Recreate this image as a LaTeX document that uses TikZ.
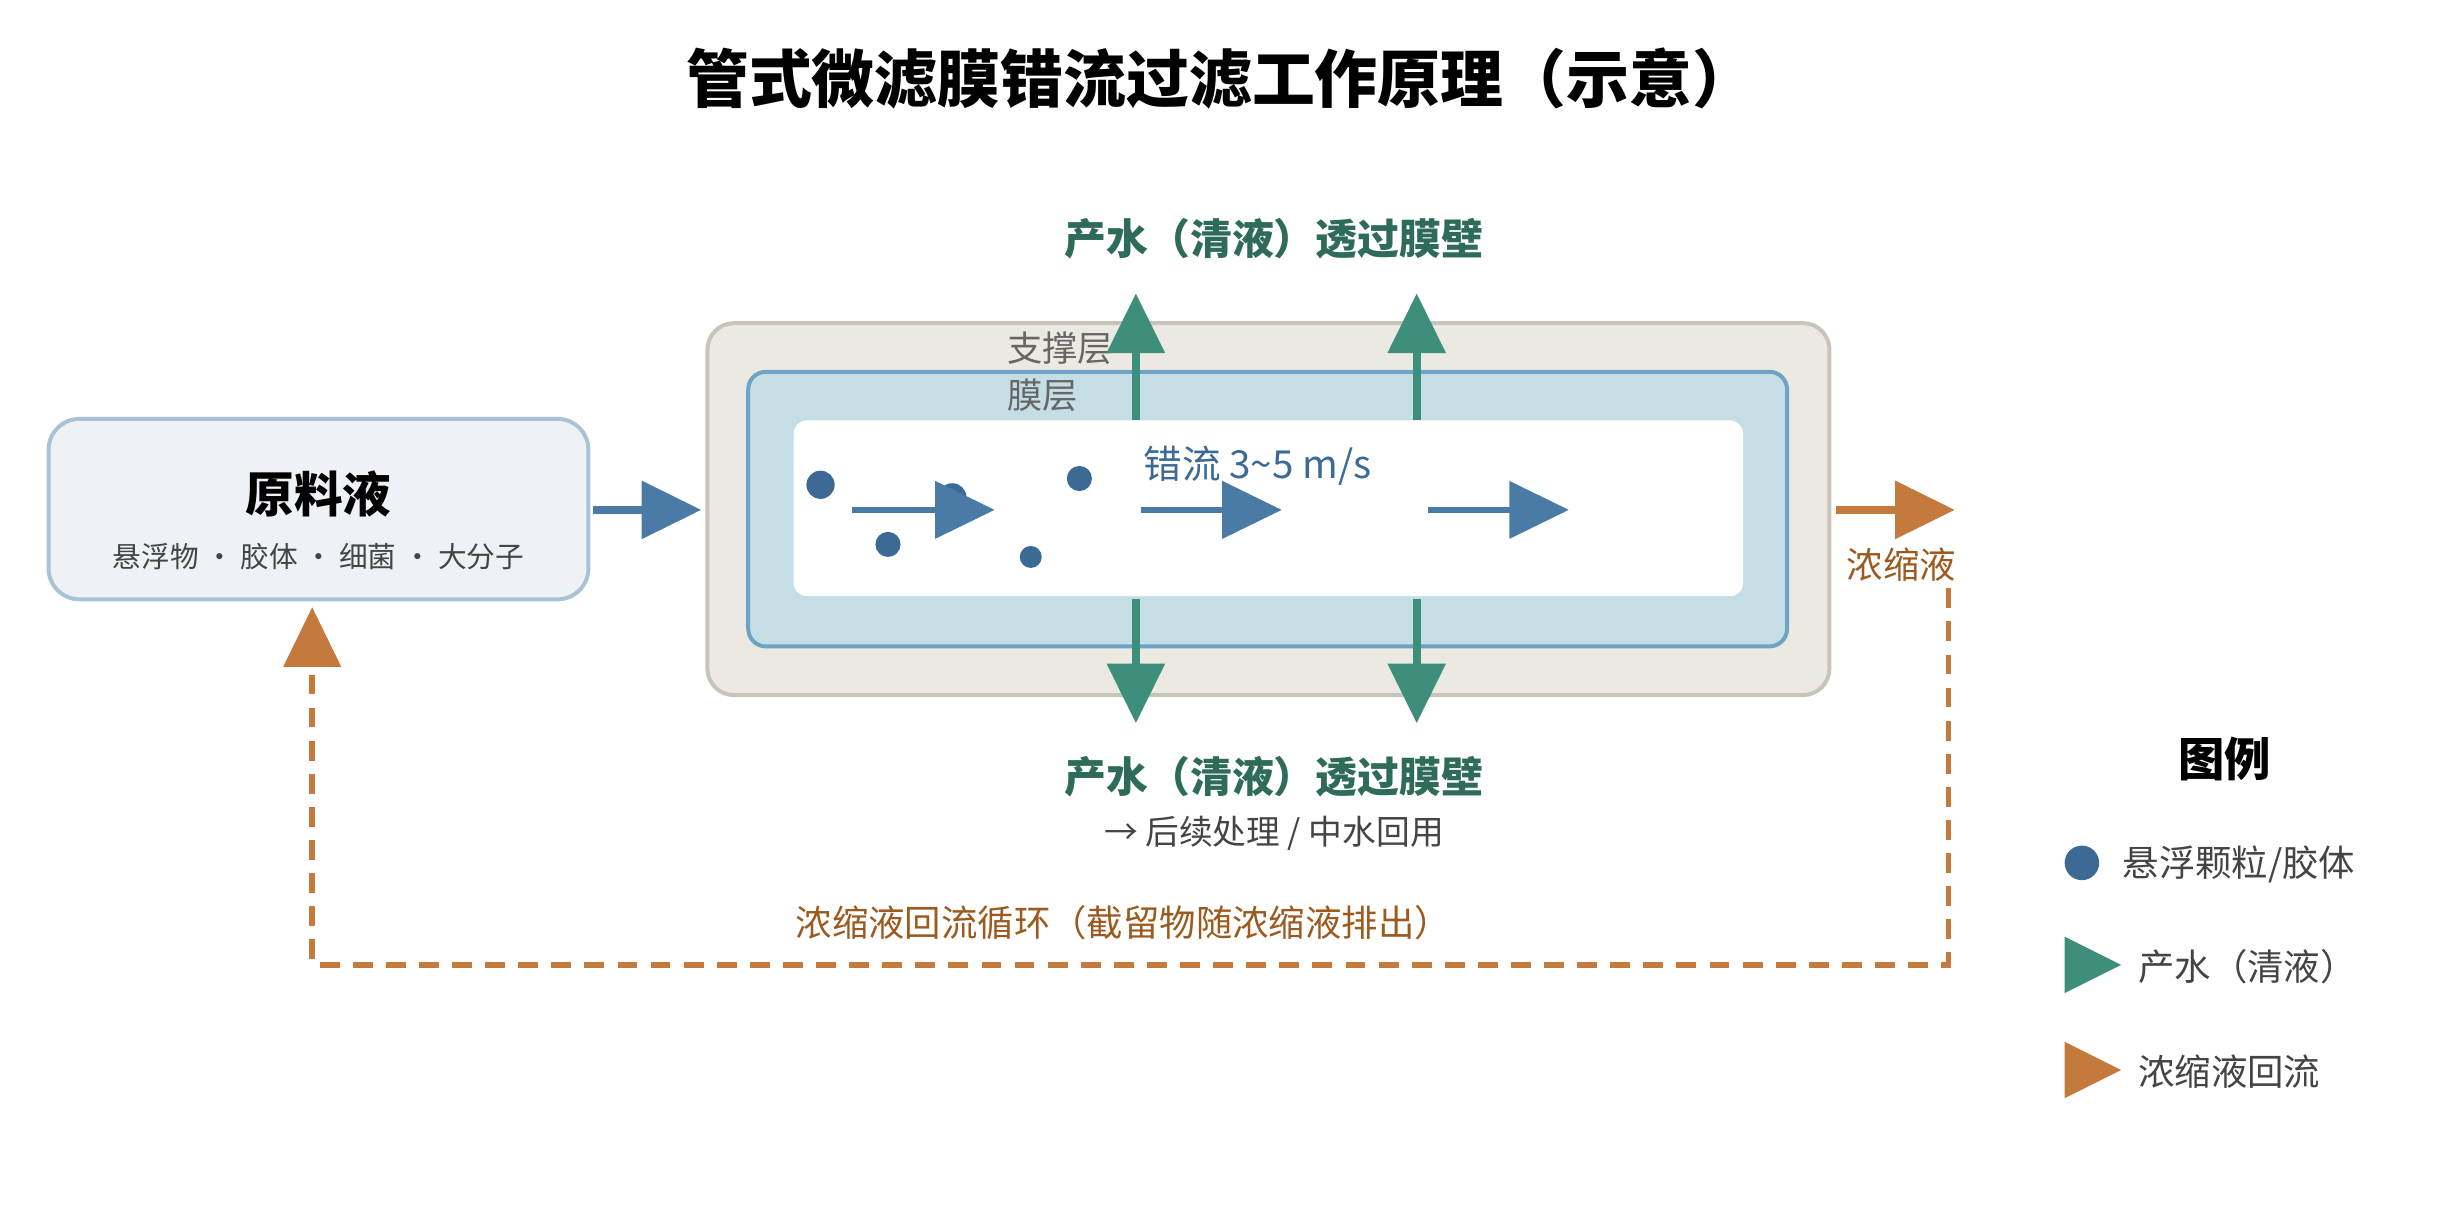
\documentclass[tikz,border=0pt]{standalone}
\usepackage{fontspec}
\setmainfont{Noto Sans CJK SC}
\usetikzlibrary{arrows.meta}
\definecolor{blu}{HTML}{4A7BA7}
\definecolor{dot}{HTML}{3D6A94}
\definecolor{grn}{HTML}{3D8F7C}
\definecolor{grnt}{HTML}{2E6B5A}
\definecolor{org}{HTML}{C47A3C}
\definecolor{orgt}{HTML}{9C5A1E}
\definecolor{gtx}{HTML}{444444}
\definecolor{feedf}{HTML}{EEF2F7}
\definecolor{feedd}{HTML}{A9C3D6}
\definecolor{supf}{HTML}{ECE9E2}
\definecolor{supd}{HTML}{C8C4BA}
\definecolor{memf}{HTML}{C5DEE6}
\definecolor{memd}{HTML}{6FA3C6}
\tikzset{
  head/.style={-{Triangle[length=0.95cm,width=0.9cm]}},
  flow/.style={head,line width=3.5pt,blu},
  perm/.style={head,line width=3.5pt,grn},
  conc/.style={head,line width=3.5pt,org},
  part/.style={circle,fill=dot,inner sep=0pt},
}
\newcommand{\fsz}[1]{\fontsize{#1}{#1}\selectfont}
\begin{document}
\begin{tikzpicture}[x=0.025cm,y=-0.025cm]
\useasboundingbox (0,0) rectangle (1568,768);
\node (title) at (778,50) {\fsz{28.5}\bfseries 管式微滤膜错流过滤工作原理（示意）};
% feed
\node[draw=feedd,line width=1.8pt,fill=feedf,rounded corners=14pt,minimum width=8.6cm,minimum height=2.875cm] (feed) at (203,324.5) {};
\node (feedt) at (203,315) {\fsz{22}\bfseries 原料液};
\node[text=gtx] (feeds) at (203,355) {\fsz{13}悬浮物 · 胶体 · 细菌 · 大分子};
% module
\node[draw=supd,line width=1.8pt,fill=supf,rounded corners=12pt,minimum width=17.875cm,minimum height=5.925cm] (sup) at (808.5,324.5) {};
\node[draw=memd,line width=1.8pt,fill=memf,rounded corners=8pt,minimum width=16.55cm,minimum height=4.375cm] (mem) at (808,324.5) {};
\node[fill=white,rounded corners=6pt,minimum width=15.125cm,minimum height=2.8cm] (chan) at (808.5,324) {};
\node[anchor=west,text=black!60] (supl) at (637,222) {\fsz{16}支撑层};
\node[anchor=west,text=black!60] (meml) at (637,252) {\fsz{16}膜层};
\node[anchor=west,text=dot] (cfl) at (724,297) {\fsz{17.5}错流 3\textasciitilde5 m/s};
\node[part,minimum size=18*0.025cm] (p1) at (523,309) {};
\node[part,minimum size=18*0.025cm] (p2) at (607,317) {};
\node[part,minimum size=16*0.025cm] (p3) at (688,305) {};
\node[part,minimum size=16*0.025cm] (p4) at (566,347) {};
\node[part,minimum size=14*0.025cm] (p5) at (657,355) {};
\coordinate (f1a) at (543,325); \coordinate (f1b) at (634,325);
\coordinate (f2a) at (727,325); \coordinate (f2b) at (817,325);
\coordinate (f3a) at (910,325); \coordinate (f3b) at (1000,325);
\draw[flow,line width=2.8pt] (f1a) -- (f1b);
\draw[flow,line width=2.8pt] (f2a) -- (f2b);
\draw[flow,line width=2.8pt] (f3a) -- (f3b);
\coordinate (ina) at (378,325); \coordinate (inb) at (447,325);
\draw[flow] (ina) -- (inb);
% permeate
\foreach \x/\n in {724/a,903/b}{
  \coordinate (u\n0) at (\x,268); \coordinate (u\n1) at (\x,187);
  \coordinate (d\n0) at (\x,382); \coordinate (d\n1) at (\x,461);
  \draw[perm] (u\n0) -- (u\n1);
  \draw[perm] (d\n0) -- (d\n1);
}
\node[text=grnt] (pt) at (812,152) {\fsz{19}\bfseries 产水（清液）透过膜壁};
\node[text=grnt] (pb) at (812,495) {\fsz{19}\bfseries 产水（清液）透过膜壁};
\node[text=gtx] (pb2) at (812,531) {\fsz{15.3}→ 后续处理 / 中水回用};
% concentrate
\coordinate (ca) at (1170,325); \coordinate (cb) at (1246,325);
\draw[conc] (ca) -- (cb);
\node[text=orgt] (cl) at (1212,360) {\fsz{16.5}浓缩液};
\coordinate (r0) at (1242,375); \coordinate (r1) at (1242,615); \coordinate (r2) at (199,615); \coordinate (r3) at (199,387);
\draw[org,line width=2.6pt,dash pattern=on 9pt off 6pt] (r0) -- (r1) -- (r2) -- (199,425);
\draw[org,head,line width=2.6pt] (199,425) -- (r3);
\node[text=orgt] (rl) at (716,588) {\fsz{16.5}浓缩液回流循环（截留物随浓缩液排出）};
% legend
\node (lg) at (1418,484) {\fsz{21}\bfseries 图例};
\node[part,minimum size=22*0.025cm] (l1) at (1327,550) {};
\node[anchor=west,text=gtx] (l1t) at (1348,551) {\fsz{16.5}悬浮颗粒/胶体};
\fill[grn] (1316,597) -- (1352,615) -- (1316,633) -- cycle;
\node[anchor=west,text=gtx] (l2t) at (1358,616) {\fsz{16.5}产水（清液）};
\fill[org] (1316,664) -- (1352,682) -- (1316,700) -- cycle;
\node[anchor=west,text=gtx] (l3t) at (1358,683) {\fsz{16.5}浓缩液回流};
\end{tikzpicture}
\end{document}
